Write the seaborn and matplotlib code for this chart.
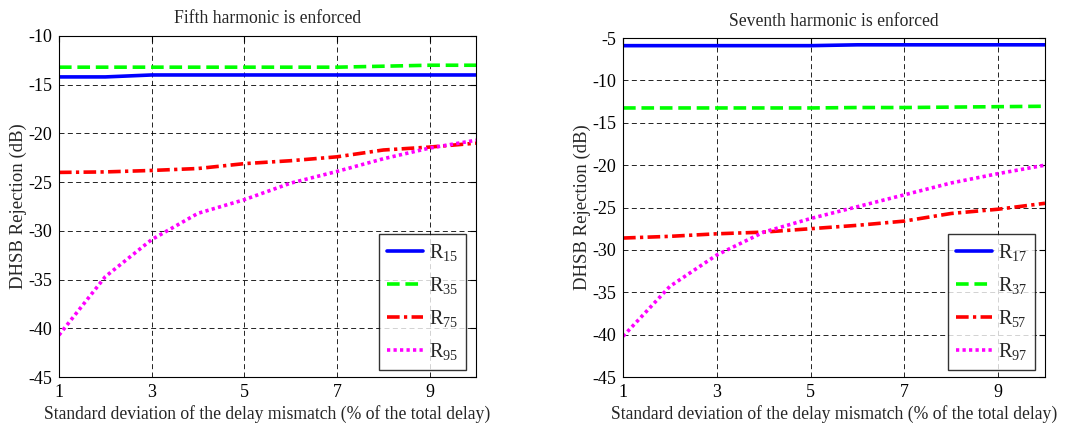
import pandas as pd
import seaborn as sns
import matplotlib.pyplot as plt

# x axis: std deviation of delay mismatch (% of total delay)
x = [1, 2, 3, 4, 5, 6, 7, 8, 9, 10]

# fifth harmonic enforced
r15 = [-14.2, -14.2, -14.0, -14.0, -14.0, -14.0, -14.0, -14.0, -14.0, -14.0]
r35 = [-13.2, -13.2, -13.2, -13.2, -13.2, -13.2, -13.2, -13.1, -13.0, -13.0]
r75 = [-24.0, -23.95, -23.8, -23.6, -23.1, -22.8, -22.4, -21.7, -21.4, -21.0]
r95 = [-40.7, -34.7, -30.9, -28.2, -26.8, -25.1, -23.9, -22.6, -21.5, -20.7]

# seventh harmonic enforced
r17 = [-5.9, -5.9, -5.9, -5.9, -5.9, -5.8, -5.8, -5.8, -5.8, -5.8]
r37 = [-13.25, -13.25, -13.25, -13.25, -13.25, -13.2, -13.2, -13.15, -13.1, -13.05]
r57 = [-28.6, -28.4, -28.1, -27.9, -27.5, -27.1, -26.6, -25.7, -25.2, -24.5]
r97 = [-40.2, -34.3, -30.6, -27.9, -26.3, -24.9, -23.5, -22.1, -21.0, -20.0]

sns.set_style("white")
plt.rcParams['font.family'] = ['Liberation Serif', 'DejaVu Serif']
plt.rcParams['mathtext.fontset'] = 'custom'
plt.rcParams['mathtext.rm'] = 'Liberation Serif'
plt.rcParams['mathtext.it'] = 'Liberation Serif'
plt.rcParams['axes.unicode_minus'] = False

colors = ['#0000ff', '#00ff00', '#ff0000', '#ff00ff']
dash_list = ['', (3.5, 1.6), (3.5, 1.2, 0.9, 1.2), (0.9, 0.9)]


def make_panel(ax, names, series, title, ylim, yticks):
    df = pd.DataFrame({
        'x': x * len(names),
        'y': [v for s in series for v in s],
        'name': [n for n in names for _ in x],
    })
    sns.lineplot(data=df, x='x', y='y', hue='name', style='name',
                 palette=dict(zip(names, colors)),
                 dashes=dict(zip(names, dash_list)),
                 linewidth=2.6, ax=ax)
    ax.set_xlim(1, 10)
    ax.set_ylim(*ylim)
    ax.set_xticks([1, 3, 5, 7, 9])
    ax.set_yticks(yticks)
    ax.grid(True, color='black', linestyle=(0, (6, 4)), linewidth=0.6)
    ax.tick_params(direction='in', length=4, labelsize=13, colors='black',
                   top=True, right=True, pad=5)
    for sp in ax.spines.values():
        sp.set_color('black')
        sp.set_linewidth(0.8)
    ax.set_xlabel('Standard deviation of the delay mismatch (% of the total delay)', fontsize=12.7, labelpad=3)
    ax.set_ylabel('DHSB Rejection (dB)', fontsize=13.5, labelpad=1)
    ax.set_title(title, fontsize=12.7, pad=9)
    leg = ax.legend(loc='lower right', bbox_to_anchor=(0.977, 0.02), borderaxespad=0,
                    fontsize=14.5, frameon=True, fancybox=False,
                    edgecolor='black', handlelength=1.8, handletextpad=0.3,
                    labelspacing=0.6, borderpad=0.4)
    leg.get_frame().set_linewidth(1.0)


fig = plt.figure(figsize=(10.74, 4.25), dpi=100)
ax1 = fig.add_axes([0.0549, 0.1129, 0.3883, 0.8024])
ax2 = fig.add_axes([0.5801, 0.1129, 0.3929, 0.7976])

make_panel(ax1, ['R$_{15}$', 'R$_{35}$', 'R$_{75}$', 'R$_{95}$'],
           [r15, r35, r75, r95], 'Fifth harmonic is enforced',
           (-45, -10), [-45, -40, -35, -30, -25, -20, -15, -10])
make_panel(ax2, ['R$_{17}$', 'R$_{37}$', 'R$_{57}$', 'R$_{97}$'],
           [r17, r37, r57, r97], 'Seventh harmonic is enforced',
           (-45, -5), [-45, -40, -35, -30, -25, -20, -15, -10, -5])

fig.savefig('out.png', dpi=100)
